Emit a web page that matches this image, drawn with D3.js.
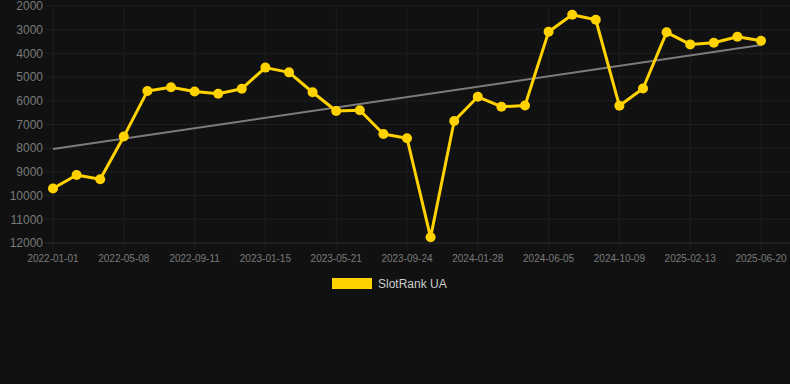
<!DOCTYPE html>
<html lang="en">
<head>
  <meta charset="UTF-8">
  <title>SlotRank UA</title>
  <script src="https://d3js.org/d3.v7.min.js"></script>
  <style>
    html, body { margin: 0; padding: 0; background: #111111; }
    svg { display: block; font-family: "Liberation Sans", Arial, sans-serif; }
  </style>
</head>
<body>
  <script>
    // dates for each point (category axis, every third one is labelled)
    const dates = [
      "2022-01-01", "2022-02-12", "2022-03-26", "2022-05-08", "2022-06-19", "2022-07-31",
      "2022-09-11", "2022-10-23", "2022-12-04", "2023-01-15", "2023-02-26", "2023-04-09",
      "2023-05-21", "2023-07-02", "2023-08-13", "2023-09-24", "2023-11-05", "2023-12-17",
      "2024-01-28", "2024-03-11", "2024-04-23", "2024-06-05", "2024-07-17", "2024-08-28",
      "2024-10-09", "2024-11-20", "2025-01-01", "2025-02-13", "2025-03-27", "2025-05-08",
      "2025-06-20"
    ];
    const ranks = [
      9700, 9130, 9310, 7510, 5590, 5430, 5610, 5700, 5490, 4600, 4800,
      5640, 6430, 6400, 7400, 7580, 11760, 6850, 5830, 6250, 6200,
      3090, 2370, 2580, 6210, 5480, 3110, 3620, 3550, 3300, 3470
    ];
    const trend = [8030, 3650]; // trend line values at first and last date
    const yTicks = [2000, 3000, 4000, 5000, 6000, 7000, 8000, 9000, 10000, 11000, 12000];
    const seriesName = "SlotRank UA";

    const width = 790, height = 384;
    const margin = { top: 6, right: 29, bottom: 141, left: 53 };

    const svg = d3.select("body").append("svg")
      .attr("width", width)
      .attr("height", height);

    const x = d3.scalePoint()
      .domain(dates)
      .range([margin.left, width - margin.right]);

    const y = d3.scaleLinear()
      .domain([2000, 12000])
      .range([margin.top, height - margin.bottom]);

    // horizontal grid
    svg.append("g")
      .selectAll("line")
      .data(yTicks)
      .join("line")
      .attr("x1", margin.left - 8)
      .attr("x2", width)
      .attr("y1", d => y(d))
      .attr("y2", d => y(d))
      .attr("stroke", d => d === 12000 ? "#2c2c2c" : "#1f1f1f")
      .attr("stroke-width", 1);

    // vertical grid on labelled dates
    const labelled = dates.filter((d, i) => i % 3 === 0);
    svg.append("g")
      .selectAll("line")
      .data(labelled)
      .join("line")
      .attr("x1", d => x(d))
      .attr("x2", d => x(d))
      .attr("y1", margin.top)
      .attr("y2", height - margin.bottom + 7)
      .attr("stroke", "#1f1f1f")
      .attr("stroke-width", 1);

    // y labels
    svg.append("g")
      .selectAll("text")
      .data(yTicks)
      .join("text")
      .attr("x", margin.left - 10)
      .attr("y", d => y(d))
      .attr("dy", "0.35em")
      .attr("text-anchor", "end")
      .attr("fill", "#7a7a7a")
      .attr("font-size", 12)
      .text(d => d);

    // x labels
    svg.append("g")
      .selectAll("text")
      .data(labelled)
      .join("text")
      .attr("x", d => x(d))
      .attr("y", height - margin.bottom + 15)
      .attr("dy", "0.35em")
      .attr("text-anchor", "middle")
      .attr("fill", "#7a7a7a")
      .attr("font-size", 10)
      .text(d => d);

    // trend line
    svg.append("line")
      .attr("x1", x(dates[0]))
      .attr("y1", y(trend[0]))
      .attr("x2", x(dates[dates.length - 1]))
      .attr("y2", y(trend[1]))
      .attr("stroke", "#7c7c7c")
      .attr("stroke-width", 2);

    const pts = dates.map((d, i) => ({ date: d, value: ranks[i] }));

    const line = d3.line()
      .x(d => x(d.date))
      .y(d => y(d.value));

    svg.append("path")
      .datum(pts)
      .attr("fill", "none")
      .attr("stroke", "#ffd200")
      .attr("stroke-width", 3)
      .attr("stroke-linejoin", "round")
      .attr("d", line);

    svg.append("g")
      .selectAll("circle")
      .data(pts)
      .join("circle")
      .attr("cx", d => x(d.date))
      .attr("cy", d => y(d.value))
      .attr("r", 5)
      .attr("fill", "#ffd200");

    // legend
    const legend = svg.append("g").attr("transform", "translate(332,278)");
    legend.append("rect")
      .attr("width", 40)
      .attr("height", 11)
      .attr("fill", "#ffd200");
    legend.append("text")
      .attr("x", 46)
      .attr("y", 6)
      .attr("dy", "0.35em")
      .attr("fill", "#cccccc")
      .attr("font-size", 12)
      .text(seriesName);
  </script>
</body>
</html>
